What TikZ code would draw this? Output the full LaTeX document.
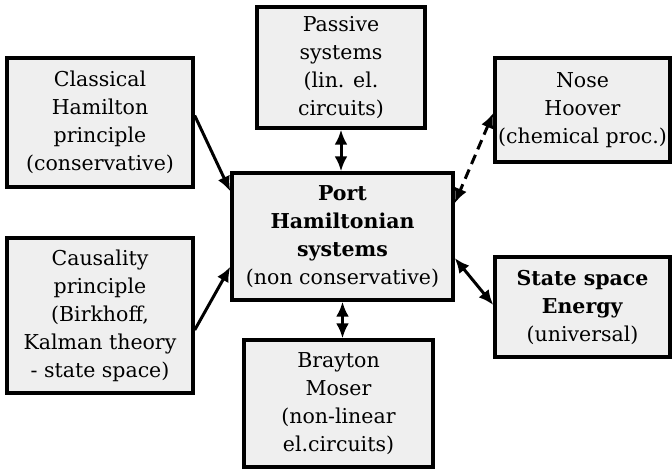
\documentclass[tikz,border=0pt]{standalone}
\usepackage{fontspec}
\setmainfont{DejaVu Serif}
\usetikzlibrary{arrows.meta,calc}
\definecolor{boxfill}{HTML}{EFEFEF}
\tikzset{
  box/.style={draw=black, line width=3.4pt, fill=boxfill, align=center,
    inner sep=0pt, font=\fontsize{20.5}{28}\selectfont},
  tip/.style={Latex[length=15pt,width=13pt]},
  link/.style={line width=3pt, -{Latex[length=15pt,width=13pt]}},
  duplex/.style={line width=3pt, {Latex[length=15pt,width=13pt]}-{Latex[length=15pt,width=13pt]}},
}
\begin{document}
\begin{tikzpicture}[x=1pt,y=-1pt]
\useasboundingbox (0,0) rectangle (672,470);

% central concept
\node[box, minimum width=221pt, minimum height=127pt] (pc) at (342.5,236.5)
  {\textbf{Port}\\ \textbf{Hamiltonian}\\ \textbf{systems}\\ (non conservative)};

% surrounding approaches
\node[box, minimum width=186pt, minimum height=129pt] (cl) at (100,122.5)
  {Classical\\ Hamilton\\ principle\\ (conservative)};
\node[box, minimum width=168pt, minimum height=121pt] (pa) at (341,67.5)
  {Passive\\ systems\\ (lin. el.\\ circuits)};
\node[box, minimum width=175pt, minimum height=104pt] (nh) at (582.5,110)
  {Nose\\ Hoover\\ (chemical proc.)};
\node[box, minimum width=186pt, minimum height=155pt] (ca) at (100,315.5)
  {Causality\\ principle\\ (Birkhoff,\\ Kalman theory\\ - state space)};
\node[box, minimum width=189pt, minimum height=127pt] (br) at (338.5,403.5)
  {Brayton\\ Moser\\ (non-linear\\ el.circuits)};
\node[box, minimum width=175pt, minimum height=100pt] (ss) at (582.5,307)
  {\textbf{State space}\\ \textbf{Energy}\\ (universal)};

% connections
\draw[link] ($(cl.east)+(0,-7)$) -- ($(pc.north west)+(0,20)$);
\draw[link] ($(ca.east)+(0,14.5)$) -- ($(pc.south west)+(0,-35)$);
\draw[duplex] (pa.south) -- (pa.south |- pc.north);
\draw[duplex] (pc.south) -- (pc.south |- br.north);
\draw[duplex, dash pattern=on 10pt off 6pt] ($(nh.west)+(0,3)$) -- ($(pc.north east)+(0,32)$);
\draw[duplex] ($(pc.east)+(0,21.5)$) -- ($(ss.west)+(0,-2)$);
\end{tikzpicture}
\end{document}
